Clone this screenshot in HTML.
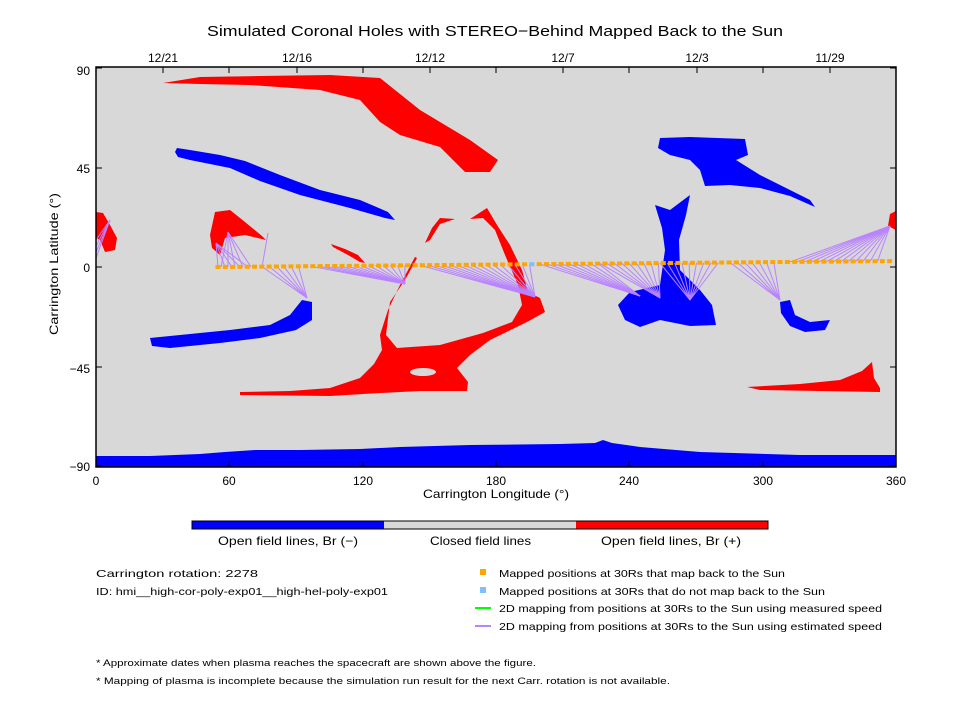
<!DOCTYPE html>
<html><head><meta charset="utf-8"><style>
html,body{margin:0;padding:0;background:#fff;}
svg{display:block;font-family:"Liberation Sans","DejaVu Sans",sans-serif;}
</style></head><body>
<svg id="s" width="960" height="720" viewBox="0 0 960 720" xmlns="http://www.w3.org/2000/svg">
<text x="207" y="36" font-size="15" textLength="576" lengthAdjust="spacingAndGlyphs">Simulated Coronal Holes with STEREO−Behind Mapped Back to the Sun</text>
<rect x="96" y="67" width="800" height="400" fill="#d8d8d8"/>
<g fill="#ff0000">
<polygon points="163,83 200,77 260,76 330,75 380,78 395,90 420,110 470,140 498,160 490,172 465,172 440,147 400,135 380,122 360,100 320,90 250,85 200,84"/>
<polygon points="96,212 103,213 110,225 117,238 115,250 105,252 100,240 96,238"/>
<polygon points="890,214 896,211 896,230 888,226"/>
<polygon points="215,212 230,210 245,222 262,236 266,240 245,235 225,238 220,255 212,248 210,235"/>
<polygon points="415,257 400,285 388,310 380,335 382,350 374,364 360,378 330,388 290,391 240,392 240,395 330,396 380,393 420,391 467,391 468,382 457,368 470,355 490,340 527,322 545,312 540,298 528,292 522,270 510,245 497,225 487,208 470,219 483,218 495,230 505,255 518,285 522,305 512,322 483,333 440,345 397,348 386,335 390,302 405,280 417,258"/>
<ellipse cx="423" cy="372" rx="13" ry="4" fill="#d8d8d8"/>
<polygon points="425,243 432,228 440,218 455,219 440,224 430,240"/>
<polygon points="331,244 345,249 358,255 365,263 360,262 348,255 333,247"/>
<polygon points="747,387 800,384 840,380 862,371 872,362 874,378 880,388 880,392 820,391 760,390"/>
</g>
<g fill="#0000ff">
<polygon points="177,148 190,150 220,155 245,161 280,175 320,190 360,200 388,212 395,220 385,218 350,208 300,195 260,181 230,168 190,160 178,157 175,152"/>
<polygon points="660,138 690,137 745,139 748,155 736,160 760,175 782,186 810,200 815,207 790,196 760,188 730,185 705,186 700,170 690,160 670,155 658,148"/>
<polygon points="655,205 670,210 690,195 686,215 679,240 680,270 700,290 712,305 716,325 690,326 660,320 640,327 625,320 618,305 630,292 660,285 665,250 662,228"/>
<polygon points="150,338 180,335 230,330 270,325 290,315 302,300 312,302 312,320 296,330 260,338 220,343 170,348 152,346"/>
<polygon points="780,302 790,300 795,315 810,322 830,320 825,330 805,332 790,326 781,313"/>
<polygon points="96,456 150,456 200,454 225,452 240,451 255,450 300,450 360,449 400,447 470,445 560,444 595,443 603,440 612,443 640,447 700,452 800,455 896,455 896,467 96,467"/>
</g>
<g id="lines" stroke="#b983ff" stroke-width="1" fill="none"></g>
<g id="dots"></g>
<rect x="96" y="67" width="800" height="400" fill="none" stroke="#000" stroke-width="1.5"/>
<g id="ticks" stroke="#000" stroke-width="1"></g>
<g font-size="12" fill="#000">
<text x="90" y="75" text-anchor="end">90</text>
<text x="90" y="173" text-anchor="end">45</text>
<text x="90" y="272" text-anchor="end">0</text>
<text x="90" y="373" text-anchor="end">−45</text>
<text x="90" y="471" text-anchor="end">−90</text>
<text x="96" y="485" text-anchor="middle">0</text>
<text x="229" y="485" text-anchor="middle">60</text>
<text x="363" y="485" text-anchor="middle">120</text>
<text x="496" y="485" text-anchor="middle">180</text>
<text x="629" y="485" text-anchor="middle">240</text>
<text x="763" y="485" text-anchor="middle">300</text>
<text x="896" y="485" text-anchor="middle">360</text>
<text x="163" y="62" text-anchor="middle">12/21</text>
<text x="297" y="62" text-anchor="middle">12/16</text>
<text x="430" y="62" text-anchor="middle">12/12</text>
<text x="563" y="62" text-anchor="middle">12/7</text>
<text x="697" y="62" text-anchor="middle">12/3</text>
<text x="830" y="62" text-anchor="middle">11/29</text>
<text x="423" y="498" textLength="146" lengthAdjust="spacingAndGlyphs">Carrington Longitude (°)</text>
<text transform="translate(58,335) rotate(-90)" textLength="142" lengthAdjust="spacingAndGlyphs">Carrington Latitude (°)</text>
</g>
<rect x="192" y="521" width="192" height="8" fill="#0000ff"/>
<rect x="384" y="521" width="192" height="8" fill="#d8d8d8"/>
<rect x="576" y="521" width="192" height="8" fill="#ff0000"/>
<rect x="192" y="521" width="576" height="8" fill="none" stroke="#000" stroke-width="1"/>
<g font-size="12" fill="#000">
<text x="218" y="545" textLength="140" lengthAdjust="spacingAndGlyphs">Open field lines, Br (−)</text>
<text x="430" y="545" textLength="101" lengthAdjust="spacingAndGlyphs">Closed field lines</text>
<text x="601" y="545" textLength="140" lengthAdjust="spacingAndGlyphs">Open field lines, Br (+)</text>
</g>
<g font-size="10.5" fill="#000">
<text x="96" y="577" textLength="162" lengthAdjust="spacingAndGlyphs">Carrington rotation: 2278</text>
<text x="96" y="595" textLength="292" lengthAdjust="spacingAndGlyphs">ID: hmi__high-cor-poly-exp01__high-hel-poly-exp01</text>
<rect x="480" y="569" width="6" height="6" fill="#ffa500"/>
<text x="499" y="577" textLength="286" lengthAdjust="spacingAndGlyphs">Mapped positions at 30Rs that map back to the Sun</text>
<rect x="480" y="587" width="6" height="6" fill="#7fbfff"/>
<text x="499" y="595" textLength="326" lengthAdjust="spacingAndGlyphs">Mapped positions at 30Rs that do not map back to the Sun</text>
<line x1="475" y1="608" x2="491" y2="608" stroke="#00ff00" stroke-width="2"/>
<text x="499" y="612" textLength="383" lengthAdjust="spacingAndGlyphs">2D mapping from positions at 30Rs to the Sun using measured speed</text>
<line x1="475" y1="626" x2="491" y2="626" stroke="#b983ff" stroke-width="2"/>
<text x="499" y="630" textLength="383" lengthAdjust="spacingAndGlyphs">2D mapping from positions at 30Rs to the Sun using estimated speed</text>
<text x="96" y="666" font-size="9.5" textLength="440" lengthAdjust="spacingAndGlyphs">* Approximate dates when plasma reaches the spacecraft are shown above the figure.</text>
<text x="96" y="684" font-size="9.5" textLength="574" lengthAdjust="spacingAndGlyphs">* Mapping of plasma is incomplete because the simulation run result for the next Carr. rotation is not available.</text>
</g>
</svg>
<script>
var NS="http://www.w3.org/2000/svg";
function el(p,t,a){var e=document.createElementNS(NS,t);for(var k in a)e.setAttribute(k,a[k]);p.appendChild(e);return e;}
var L=document.getElementById("lines"),D=document.getElementById("dots"),T=document.getElementById("ticks");
function dy(x){return 267-(x-218)*6/678;}
var groups=[[262,300,307,298],[310,405,405,284],[420,530,535,297],[540,600,640,296],[600,660,660,298],[660,725,690,300],[730,775,780,300],[790,880,890,226]];
groups.forEach(function(g){for(var x=g[0];x<=g[1];x+=7.3){el(L,"line",{x1:x,y1:dy(x),x2:g[2],y2:g[3]});}});
[[218,243],[225,243],[232,243],[240,243],[248,243]].forEach(function(p){el(L,"line",{x1:p[0],y1:267,x2:216,y2:243});el(L,"line",{x1:p[0]+3,y1:267,x2:228,y2:232});});
el(L,"line",{x1:262,y1:267,x2:268,y2:233});
for(var i=0;i<4;i++){el(L,"line",{x1:96,y1:240+i*6,x2:110,y2:220});}
for(var x=218;x<=894;x+=7.3){var c=(Math.abs(x-535)<3.7)?"#7fbfff":"#ffa500";el(D,"rect",{x:x-2.5,y:dy(x)-2,width:5,height:4,fill:c});}
[96,229,363,496,629,763,896].forEach(function(x){el(T,"line",{x1:x,y1:467,x2:x,y2:461});el(T,"line",{x1:x,y1:67,x2:x,y2:73});});
[163,297,430,563,697,830].forEach(function(x){el(T,"line",{x1:x,y1:67,x2:x,y2:73});});
[68,168,267,367,466].forEach(function(y){el(T,"line",{x1:96,y1:y,x2:102,y2:y});el(T,"line",{x1:896,y1:y,x2:890,y2:y});});
</script>
</body></html>
